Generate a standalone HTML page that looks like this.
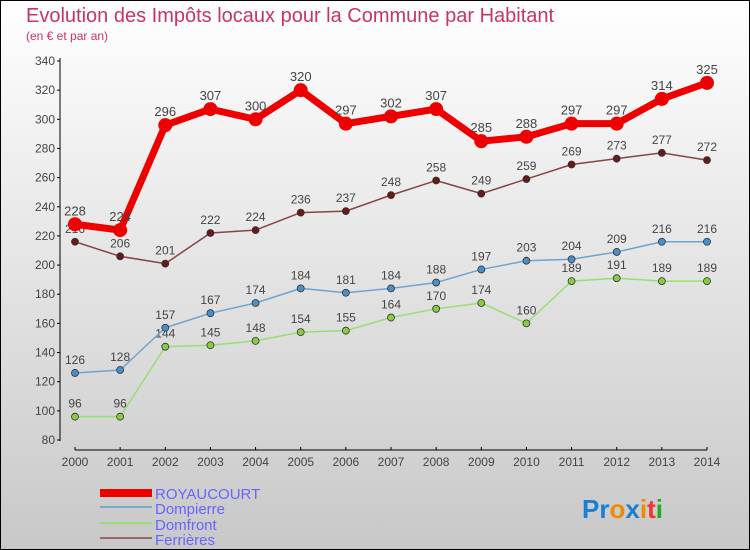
<!DOCTYPE html>
<html><head><meta charset="utf-8"><style>
body{margin:0}
#c{width:750px;height:550px;position:relative;overflow:hidden;font-family:"Liberation Sans",sans-serif}
</style></head><body>
<div id="c">
<svg id="s" width="750" height="550" xmlns="http://www.w3.org/2000/svg">
<defs><linearGradient id="bg" x1="0" y1="0" x2="0" y2="1"><stop offset="0" stop-color="#ffffff"/><stop offset="1" stop-color="#c8c8c8"/></linearGradient></defs>
<rect x="0.5" y="0.5" width="749" height="549" fill="url(#bg)" stroke="#000"/>
<text x="26" y="22" font-size="20" fill="#c8336a">Evolution des Impôts locaux pour la Commune par Habitant</text>
<text x="26" y="40" font-size="12" fill="#c8336a">(en € et par an)</text>
<g id="axes"></g><g id="series"></g>
<g>
<rect x="100" y="489" width="52" height="8" fill="#e00"/>
<text x="155" y="499" font-size="15" fill="#6666ff">ROYAUCOURT</text>
<rect x="100" y="506" width="52" height="2" fill="#7ba7cc"/>
<text x="155" y="514" font-size="15" fill="#6666ff">Dompierre</text>
<rect x="100" y="522" width="52" height="2" fill="#99dd77"/>
<text x="155" y="530" font-size="15" fill="#6666ff">Domfront</text>
<rect x="100" y="537" width="52" height="2" fill="#996666"/>
<text x="155" y="545" font-size="15" fill="#6666ff">Ferrières</text>
</g>
<text x="582" y="518" font-size="26" font-weight="bold"><tspan fill="#1a7fd0">Pr</tspan><tspan fill="#f08a00">o</tspan><tspan fill="#1a7fd0">x</tspan><tspan fill="#f08a00">i</tspan><tspan fill="#e33">t</tspan><tspan fill="#2a2">i</tspan></text>
</svg></div>
<script>
const years=[2000,2001,2002,2003,2004,2005,2006,2007,2008,2009,2010,2011,2012,2013,2014];
const yTicks=[80,100,120,140,160,180,200,220,240,260,280,300,320,340];
const royaucourt=[228,224,296,307,300,320,297,302,307,285,288,297,297,314,325];
const dompierre=[126,128,157,167,174,184,181,184,188,197,203,204,209,216,216];
const domfront=[96,96,144,145,148,154,155,164,170,174,160,189,191,189,189];
const ferrieres=[216,206,201,222,224,236,237,248,258,249,259,269,273,277,272];
const NS="http://www.w3.org/2000/svg";
function xs(i){return 75+i*(707-75)/14;}
function ys(v){return 440-(v-80)*(440-61)/260;}
function mk(p,tag,at){const e=document.createElementNS(NS,tag);for(const k in at)e.setAttribute(k,at[k]);p.appendChild(e);return e;}
const ax=document.getElementById('axes');
let e=mk(ax,'line',{x1:60,y1:58,x2:60,y2:441,stroke:'#000'});


e=mk(ax,'line',{x1:75,y1:450,x2:707,y2:450,stroke:'#000'});


yTicks.forEach(v=>{const y=ys(v);
mk(ax,'line',{x1:57,y1:y,x2:60,y2:y,stroke:'#000'});
const t=mk(ax,'text',{x:55,y:y+4,'font-size':12,fill:'#444','text-anchor':'end'});t.textContent=v;

});
years.forEach((yr,i)=>{const x=xs(i);
mk(ax,'line',{x1:x,y1:447,x2:x,y2:450,stroke:'#000'});
const t=mk(ax,'text',{x:x,y:466,'font-size':12,fill:'#444','text-anchor':'middle'});t.textContent=yr;

});
const sg=document.getElementById('series');
function draw(name,data,color,dot,w,r,fs){
const g=mk(sg,'g',{});


const pl=mk(g,'polyline',{points:data.map((v,i)=>xs(i)+','+ys(v)).join(' '),fill:'none',stroke:color,'stroke-width':w,'stroke-linejoin':'round'});


data.forEach((v,i)=>{const c=mk(g,'circle',{cx:xs(i),cy:ys(v),r:r,fill:dot,stroke:'#333','stroke-width':w>3?0:0.8});


const t=mk(g,'text',{x:xs(i),y:ys(v)-9,'font-size':fs,fill:'#444','text-anchor':'middle'});t.textContent=v;

});}
draw('domfront',domfront,'#99dd77','#88cc44',1.5,3.5,12);
draw('dompierre',dompierre,'#6fa3cf','#4a90c8',1.5,3.5,12);
draw('ferrieres',ferrieres,'#884444','#661a1a',1.5,3.5,12);
draw('royaucourt',royaucourt,'#ee0000','#ee0000',7,7,13);
</script>
</body></html>
